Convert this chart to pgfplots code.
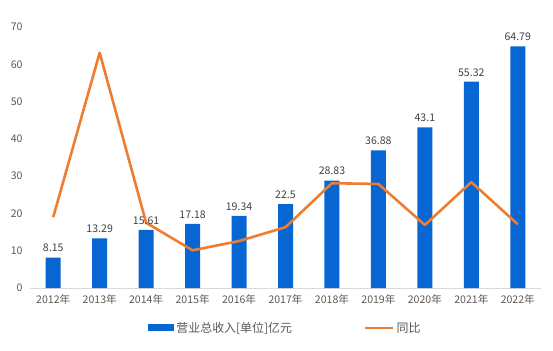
\documentclass[border=0pt]{standalone}
\usepackage{pgfplots}
\pgfplotsset{compat=1.18}
\usepackage{fontspec}
\setmainfont{Noto Sans CJK SC}
\definecolor{barblue}{HTML}{0866D3}
\definecolor{lineorange}{HTML}{ED7D31}
\definecolor{txtgray}{HTML}{595959}
\definecolor{axgray}{HTML}{D9D9D9}
\begin{document}
\begin{tikzpicture}
\path[use as bounding box] (0,0) rectangle (553bp,351bp);
\begin{axis}[
  at={(30bp,63bp)}, anchor=south west,
  scale only axis, width=511bp, height=261bp,
  xmin=-0.5, xmax=10.5, ymin=0, ymax=70,
  xtick={0,...,10},
  xticklabels={2012年,2013年,2014年,2015年,2016年,2017年,2018年,2019年,2020年,2021年,2022年},
  ytick={0,10,...,70},
  axis x line*=bottom, axis y line*=left,
  y axis line style={draw=none},
  x axis line style={draw=axgray, line width=0.9pt},
  major tick length=0pt,
  tick label style={font=\fontsize{10.6}{12}\selectfont, text=txtgray},
  yticklabel style={xshift=-4bp},
  xticklabel style={yshift=-3bp},
  /pgf/number format/assume math mode=true,
  legend columns=2,
  legend style={at={(0.5,-0.153)}, anchor=center, draw=none,
    font=\fontsize{12}{14}\selectfont, text=txtgray,
    /tikz/every even column/.append style={column sep=70bp}},
  clip=false,
]
\addplot[fill=barblue, draw=none, ybar, bar width=15bp,
  nodes near coords,
  every node near coord/.append style={font=\fontsize{10.6}{12}\selectfont, text=black!75, yshift=2bp},
  legend image code/.code={\fill[barblue] (0bp,-3.5bp) rectangle (26bp,3.5bp);}]
  coordinates {(0,8.15) (1,13.29) (2,15.61) (3,17.18) (4,19.34) (5,22.5) (6,28.83) (7,36.88) (8,43.1) (9,55.32) (10,64.79)};
\addlegendentry{营业总收入[单位]亿元}
\addplot[lineorange, line width=2.6pt, line join=round, mark=none,
  legend image code/.code={\draw[lineorange, line width=2.6pt] (0bp,0bp) -- (28bp,0bp);}]
  coordinates {(0,19.0) (1,63.1) (2,17.5) (3,10.1) (4,12.6) (5,16.3) (6,28.1) (7,27.9) (8,16.9) (9,28.4) (10,17.1)};
\addlegendentry{同比}
\end{axis}
\end{tikzpicture}
\end{document}
